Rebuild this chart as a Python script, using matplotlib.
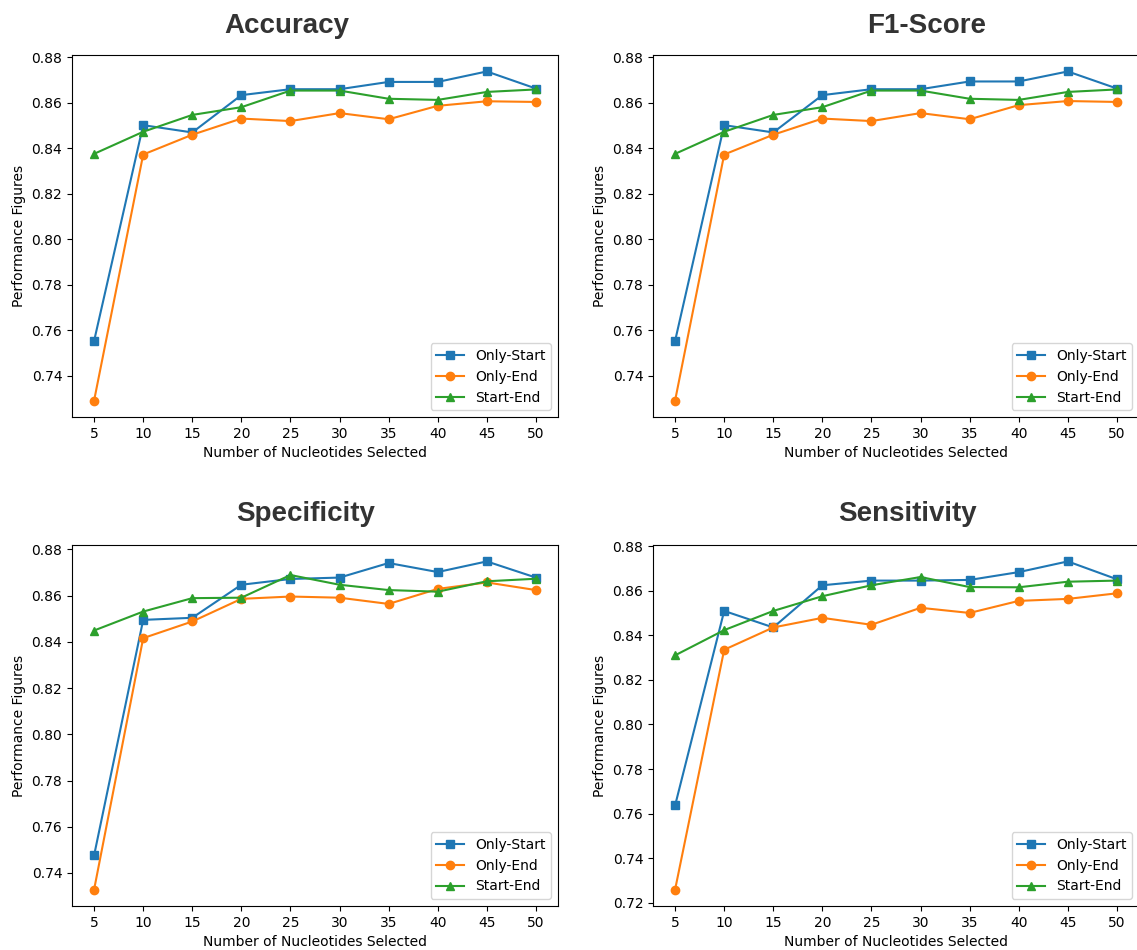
import matplotlib
matplotlib.use("Agg")
import matplotlib.pyplot as plt

# =============================================================================
# data
# =============================================================================
nucleotides = [5, 10, 15, 20, 25, 30, 35, 40, 45, 50]
series_names = ["Only-Start", "Only-End", "Start-End"]

accuracy_only_start = [0.7554, 0.8502, 0.8470, 0.8634, 0.8660, 0.8660, 0.8692, 0.8692, 0.8738, 0.8663]
accuracy_only_end = [0.7292, 0.8373, 0.8460, 0.8531, 0.8520, 0.8555, 0.8528, 0.8587, 0.8607, 0.8604]
accuracy_start_end = [0.8376, 0.8473, 0.8547, 0.8581, 0.8654, 0.8654, 0.8618, 0.8613, 0.8648, 0.8659]

f1_only_start = [0.7554, 0.8502, 0.8470, 0.8634, 0.8660, 0.8660, 0.8694, 0.8694, 0.8738, 0.8663]
f1_only_end = [0.7292, 0.8373, 0.8460, 0.8531, 0.8520, 0.8555, 0.8528, 0.8590, 0.8608, 0.8604]
f1_start_end = [0.8376, 0.8473, 0.8547, 0.8581, 0.8654, 0.8654, 0.8618, 0.8613, 0.8648, 0.8659]

specificity_only_start = [0.7476, 0.8495, 0.8504, 0.8647, 0.8672, 0.8678, 0.8741, 0.8702, 0.8748, 0.8678]
specificity_only_end = [0.7328, 0.8416, 0.8488, 0.8586, 0.8596, 0.8591, 0.8564, 0.8629, 0.8657, 0.8624]
specificity_start_end = [0.8449, 0.8531, 0.8589, 0.8591, 0.8689, 0.8647, 0.8624, 0.8617, 0.8662, 0.8673]

sensitivity_only_start = [0.7637, 0.8509, 0.8435, 0.8624, 0.8645, 0.8645, 0.8648, 0.8683, 0.8731, 0.8651]
sensitivity_only_end = [0.7260, 0.8335, 0.8435, 0.8478, 0.8447, 0.8523, 0.8500, 0.8554, 0.8563, 0.8588]
sensitivity_start_end = [0.8310, 0.8423, 0.8509, 0.8575, 0.8624, 0.8661, 0.8616, 0.8615, 0.8640, 0.8645]

panels = [
    ("Accuracy", [accuracy_only_start, accuracy_only_end, accuracy_start_end]),
    ("F1-Score", [f1_only_start, f1_only_end, f1_start_end]),
    ("Specificity", [specificity_only_start, specificity_only_end, specificity_start_end]),
    ("Sensitivity", [sensitivity_only_start, sensitivity_only_end, sensitivity_start_end]),
]
# =============================================================================

W, H = 1137, 950
fig = plt.figure(figsize=(W / 100, H / 100), dpi=100)

# axes boxes in pixels: left, top, right, bottom
boxes = [(72, 55, 558, 417), (653, 55, 1139, 417),
         (72, 545, 558, 906), (653, 545, 1139, 906)]
# title centre x and baseline y (pixels)
title_pos = [(287, 33), (927, 33), (306, 521), (907, 521)]

markers = ["s", "o", "^"]
colors = ["#1f77b4", "#ff7f0e", "#2ca02c"]

for (name, series), (l, t, r, b), (tx, ty) in zip(panels, boxes, title_pos):
    ax = fig.add_axes([l / W, 1 - b / H, (r - l) / W, (b - t) / H])
    for vals, m, c, lab in zip(series, markers, colors, series_names):
        ax.plot(nucleotides, vals, marker=m, color=c, label=lab)
    ax.set_xticks(nucleotides)
    ax.set_xlabel("Number of Nucleotides Selected")
    ax.set_ylabel("Performance Figures")
    ax.legend(loc="lower right")
    fig.text(tx / W, 1 - ty / H, name, ha="center", va="baseline",
             fontsize=20, fontweight="bold", family="Liberation Sans",
             color="#333333")

fig.savefig("out.png", dpi=100)
